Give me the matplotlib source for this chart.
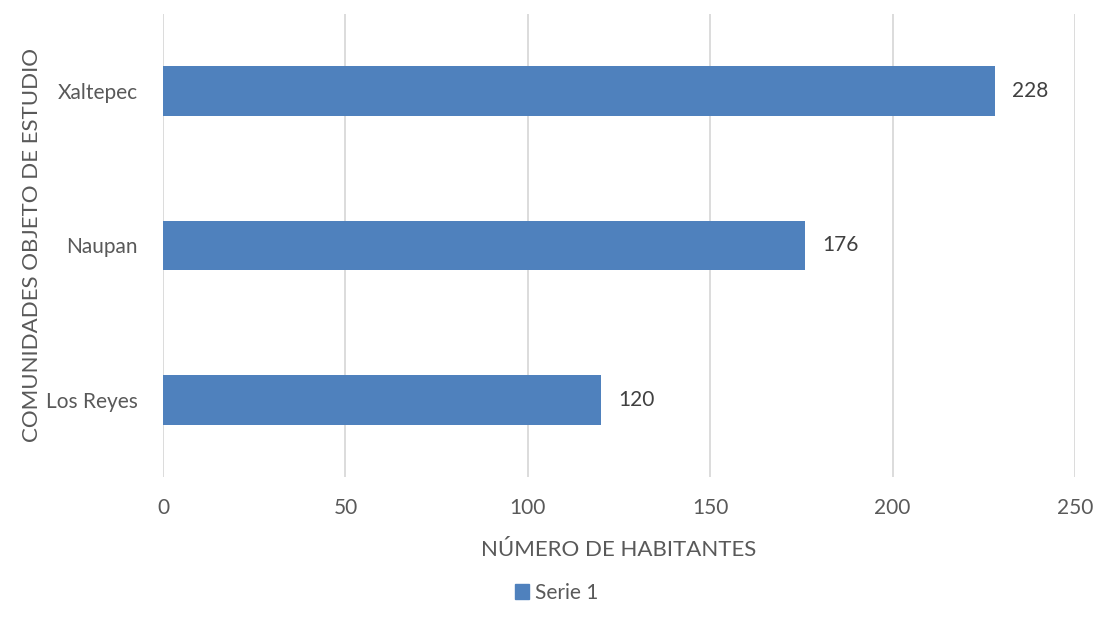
import matplotlib
matplotlib.use("Agg")
from matplotlib import pyplot as plt
from matplotlib.patches import Patch

comunidades = ['Los Reyes', 'Naupan', 'Xaltepec']
habitantes = [120, 176, 228]
ticks_x = [0, 50, 100, 150, 200, 250]

plt.rcParams['font.family'] = ['Lato', 'DejaVu Sans']

BAR_COLOR = '#4F81BD'
TEXT_COLOR = '#595959'
GRID_COLOR = '#D9D9D9'

fig = plt.figure(figsize=(10.98, 6.26), dpi=100)
ax = fig.add_axes([0.1485, 0.238, 0.8305, 0.740])

y_pos = list(range(len(comunidades)))
ax.barh(y_pos, habitantes, height=0.32, color=BAR_COLOR, zorder=3, label='Serie 1')

# etiquetas de valor a la derecha de cada barra
for y, v in zip(y_pos, habitantes):
    ax.text(v + 4.8, y, str(v), va='center', ha='left', fontsize=15, color='#404040')

ax.set_xlim(0, 250)
ax.set_ylim(-0.5, len(comunidades) - 0.5)
ax.set_xticks(ticks_x)
ax.set_xticklabels([str(t) for t in ticks_x])
ax.set_yticks(y_pos)
ax.set_yticklabels(comunidades)
ax.tick_params(axis='both', length=0, labelsize=15, labelcolor=TEXT_COLOR)
ax.tick_params(axis='x', pad=15)
ax.tick_params(axis='y', pad=18)

ax.grid(axis='x', color=GRID_COLOR, linewidth=1.3, zorder=0)
for s in ax.spines.values():
    s.set_visible(False)

ax.set_xlabel('NÚMERO DE HABITANTES', fontsize=16, color=TEXT_COLOR, labelpad=16)
ax.set_ylabel('COMUNIDADES OBJETO DE ESTUDIO', fontsize=16, color=TEXT_COLOR)
ax.yaxis.set_label_coords(-0.133, 0.5)

fig.legend(handles=[Patch(color=BAR_COLOR, label='Serie 1')], loc='center',
           bbox_to_anchor=(0.507, 0.053), frameon=False, fontsize=15,
           handlelength=0.7, handleheight=0.7, handletextpad=0.3,
           labelcolor=TEXT_COLOR)

fig.savefig('out.png', dpi=100)
